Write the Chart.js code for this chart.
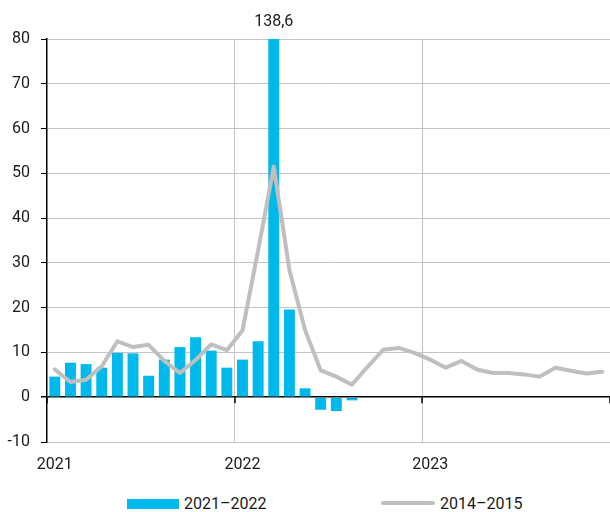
<!DOCTYPE html>
<html>
<head>
<meta charset="utf-8">
<script src="https://cdn.jsdelivr.net/npm/chart.js@4/dist/chart.umd.min.js"></script>
<style>
  html, body { margin: 0; padding: 0; background: #fff; }
  #wrap { position: relative; width: 610px; height: 512px; overflow: hidden; font-family: Roboto, "Liberation Sans", sans-serif; color: #1a1a1a; }
  #c { position: absolute; left: 0; top: 0; }
  .lg { position: absolute; font-size: 16px; line-height: 16px; white-space: nowrap; }
  .box { position: absolute; }
</style>
</head>
<body>
<div id="wrap">
  <canvas id="c" width="610" height="480"></canvas>
  <div class="box" id="k1" style="left:127px; top:499px; width:52px; height:10px; background:#00b9eb;"></div>
  <div class="lg" id="t1" style="left:184px; top:496px;"></div>
  <div class="box" id="k2" style="left:381px; top:501px; width:54px; height:4px; background:#bfbfbf; border-radius:2px;"></div>
  <div class="lg" id="t2" style="left:440px; top:496px;"></div>
</div>
<script>
// Months Jan 2021 .. Dec 2023
const years = ['2021', '2022', '2023'];
const months = [];
years.forEach(y => { for (let m = 1; m <= 12; m++) months.push(y + '-' + String(m).padStart(2, '0')); });

const seriesNames = ['2021–2022', '2014–2015'];

// 2021–2022 (bars), Jan 2021 .. Aug 2022
const bars2021_2022 = [4.6, 7.7, 7.4, 6.6, 9.9, 9.8, 4.8, 8.4, 11.2, 13.4, 10.4, 6.6,
                       8.4, 12.5, 138.6, 19.6, 2.0, -2.8, -3.1, -0.7];

// 2014–2015 (line), 36 months aligned
const line2014_2015 = [6.2, 3.4, 3.9, 6.9, 12.5, 11.2, 11.7, 8.1, 5.4, 8.3, 11.8, 10.5,
                       14.9, 32.8, 51.5, 28.4, 15.0, 6.0, 4.6, 2.8, 6.8, 10.6, 11.0, 9.9,
                       8.4, 6.6, 8.1, 6.2, 5.4, 5.4, 5.1, 4.6, 6.6, 5.9, 5.3, 5.7];

const yTicks = [-10, 0, 10, 20, 30, 40, 50, 60, 70, 80];

document.getElementById('t1').textContent = seriesNames[0];
document.getElementById('t2').textContent = seriesNames[1];

const barData = months.map((_, i) => i < bars2021_2022.length ? bars2021_2022[i] : null);

const FONT = { family: 'Roboto, "Liberation Sans", sans-serif', size: 16 };

const overflowLabel = {
  id: 'overflowLabel',
  afterDatasetsDraw(chart) {
    const yScale = chart.scales.y;
    const meta = chart.getDatasetMeta(1);
    const ctx = chart.ctx;
    ctx.save();
    ctx.font = '16px ' + FONT.family;
    ctx.fillStyle = '#1a1a1a';
    ctx.textAlign = 'center';
    ctx.textBaseline = 'middle';
    bars2021_2022.forEach((v, i) => {
      if (v > yScale.max) {
        const el = meta.data[i];
        ctx.fillText(String(v).replace('.', ','), el.x, chart.chartArea.top - 17);
      }
    });
    ctx.restore();
  }
};

const xTickMarks = {
  id: 'xTickMarks',
  afterDraw(chart) {
    const x = chart.scales.x, y = chart.scales.y;
    const y0 = y.getPixelForValue(0);
    const ctx = chart.ctx;
    ctx.save();
    ctx.strokeStyle = '#000';
    ctx.lineWidth = 1.5;
    for (let i = 0; i <= months.length; i += 12) {
      const px = Math.round(x.getPixelForValue(i - 0.5));
      ctx.beginPath();
      ctx.moveTo(px, y0);
      ctx.lineTo(px, y0 + 6);
      ctx.stroke();
    }
    ctx.restore();
  }
};

new Chart(document.getElementById('c'), {
  type: 'bar',
  data: {
    labels: months,
    datasets: [
      {
        type: 'line',
        label: seriesNames[1],
        data: line2014_2015,
        borderColor: '#bfbfbf',
        borderWidth: 4,
        pointRadius: 0,
        tension: 0,
        borderJoinStyle: 'round',
        borderCapStyle: 'round',
        order: 0
      },
      {
        type: 'bar',
        label: seriesNames[0],
        data: barData,
        backgroundColor: '#00b9eb',
        categoryPercentage: 1,
        barPercentage: 0.7,
        order: 1
      }
    ]
  },
  options: {
    responsive: false,
    animation: false,
    devicePixelRatio: 1,
    layout: { padding: { top: 39, right: 0, left: 0, bottom: 0 } },
    plugins: {
      legend: { display: false },
      tooltip: { enabled: false }
    },
    scales: {
      x: {
        offset: true,
        grid: {
          offset: true,
          drawTicks: false,
          lineWidth: 1,
          color: (c) => (c.index % 12 === 0 && c.index > 0 && c.index < months.length) ? '#c4c4c4' : 'rgba(0,0,0,0)'
        },
        border: { display: false },
        ticks: {
          autoSkip: false,
          maxRotation: 0,
          minRotation: 0,
          padding: 13,
          color: '#1a1a1a',
          font: FONT,
          callback: (v, i) => (i % 12 === 0 ? months[i].slice(0, 4) : '')
        },
        afterFit: (s) => { s.height = 38; s.paddingLeft = 0; s.paddingRight = 0; }
      },
      y: {
        min: -10,
        max: 80,
        afterBuildTicks: (s) => { s.ticks = yTicks.map(v => ({ value: v })); },
        grid: {
          color: (c) => (c.tick && c.tick.value === 0) ? '#000' : '#c4c4c4',
          lineWidth: (c) => (c.tick && c.tick.value === 0) ? 1.5 : 1,
          tickColor: '#000',
          tickLength: 6,
          drawTicks: true
        },
        border: { display: true, color: '#000', width: 1.5 },
        ticks: {
          padding: 11,
          color: '#1a1a1a',
          font: FONT
        },
        afterFit: (s) => { s.width = 47; }
      }
    }
  },
  plugins: [overflowLabel, xTickMarks]
});
</script>
</body>
</html>
